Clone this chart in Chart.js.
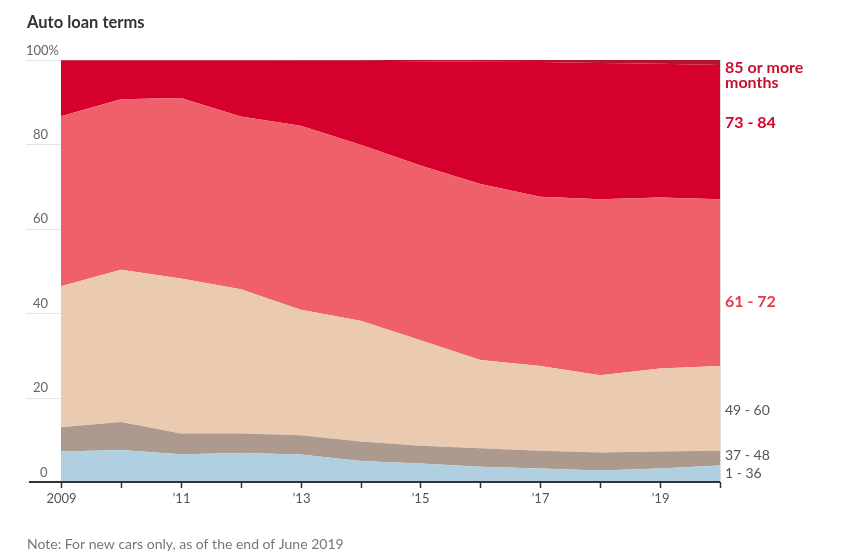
<!DOCTYPE html>
<html>
<head>
<meta charset="utf-8">
<script src="https://cdn.jsdelivr.net/npm/chart.js@4"></script>
<style>
  html, body { margin: 0; padding: 0; background: #fff; }
  #wrap { position: relative; width: 841px; height: 555px; }
</style>
</head>
<body>
<div id="wrap"><canvas id="loanChart" width="841" height="555"></canvas></div>
<script>
// Share of new-car auto loans by term (months), stacked to 100%
const years = ['2009', '2010', '2011', '2012', '2013', '2014', '2015', '2016', '2017', '2018', '2019', '2020'];
const tickLabels = ['2009', '', '\u201911', '', '\u201913', '', '\u201915', '', '\u201917', '', '\u201919', ''];
const yTicks = [0, 20, 40, 60, 80, 100];

const term1to36 = [7.2, 7.6, 6.6, 6.9, 6.5, 5.0, 4.4, 3.6, 3.2, 2.7, 3.2, 3.9];
const term37to48 = [5.8, 6.6, 4.9, 4.6, 4.6, 4.6, 4.2, 4.4, 4.2, 4.3, 4.0, 3.5];
const term49to60 = [33.4, 36.1, 36.7, 34.2, 29.7, 28.6, 25.0, 20.9, 20.1, 18.3, 19.7, 20.1];
const term61to72 = [40.3, 40.4, 42.8, 40.9, 43.6, 41.7, 41.4, 41.7, 40.1, 41.7, 40.5, 39.5];
const term85plus = [0.1, 0.1, 0.1, 0.1, 0.2, 0.2, 0.3, 0.4, 0.5, 0.7, 0.9, 1.2];
const term73to84 = years.map((y, i) =>
    +(100 - term1to36[i] - term37to48[i] - term49to60[i] - term61to72[i] - term85plus[i]).toFixed(1));

const FONT = 'Lato, "Noto Sans", sans-serif';

function area(label, data, color, fill) {
    return {
        label: label,
        data: data,
        backgroundColor: color,
        borderWidth: 0,
        pointRadius: 0,
        tension: 0,
        fill: fill
    };
}

// grid, axis, ticks and labels drawn by hand to match the newspaper style
const decorations = {
    id: 'decorations',
    beforeDatasetsDraw(chart) {
        const ctx = chart.ctx;
        const y = chart.scales.y;
        const area = chart.chartArea;
        ctx.save();
        ctx.strokeStyle = '#e4e4e4';
        ctx.lineWidth = 1;
        yTicks.forEach(v => {
            const py = Math.round(y.getPixelForValue(v)) + 0.5;
            ctx.beginPath();
            ctx.moveTo(26, py);
            ctx.lineTo(area.right, py);
            ctx.stroke();
        });
        ctx.restore();
    },
    afterDatasetsDraw(chart) {
        const ctx = chart.ctx;
        const x = chart.scales.x;
        const y = chart.scales.y;
        const area = chart.chartArea;
        ctx.save();

        // right frame line
        ctx.strokeStyle = '#dddddd';
        ctx.lineWidth = 1;
        ctx.beginPath();
        ctx.moveTo(area.right + 0.5, area.top);
        ctx.lineTo(area.right + 0.5, area.bottom);
        ctx.stroke();

        // y labels sit above their grid lines
        ctx.fillStyle = '#666';
        ctx.font = '13px ' + FONT;
        ctx.textAlign = 'left';
        ctx.textBaseline = 'bottom';
        yTicks.forEach(v => {
            const py = y.getPixelForValue(v);
            const txt = v === 100 ? '100%' : String(v);
            const px = v === 100 ? 26 : (v === 0 ? 40 : 33);
            ctx.fillText(txt, px, py - 3);
        });

        // x axis
        const base = y.getPixelForValue(0);
        ctx.strokeStyle = '#333';
        ctx.lineWidth = 2;
        ctx.beginPath();
        ctx.moveTo(29, base);
        ctx.lineTo(area.right, base);
        ctx.stroke();
        ctx.lineWidth = 1.5;
        ctx.textAlign = 'center';
        ctx.textBaseline = 'top';
        ctx.fillStyle = '#555';
        years.forEach((yr, i) => {
            const px = Math.round(x.getPixelForValue(i)) + 0.5;
            ctx.beginPath();
            ctx.moveTo(px, base);
            ctx.lineTo(px, base + 6);
            ctx.stroke();
            if (tickLabels[i]) ctx.fillText(tickLabels[i], px, base + 10);
        });

        // series labels on the right
        ctx.textAlign = 'left';
        ctx.textBaseline = 'middle';
        const lx = area.right + 5;
        ctx.font = 'bold 16px ' + FONT;
        ctx.fillStyle = '#c8102e';
        ctx.fillText('85 or more', lx, 68);
        ctx.fillText('months', lx, 83);
        ctx.fillStyle = '#d5002b';
        ctx.fillText('73 - 84', lx, 123);
        ctx.fillStyle = '#e8394b';
        ctx.fillText('61 - 72', lx, 302);
        ctx.font = '14px ' + FONT;
        ctx.fillStyle = '#555';
        ctx.fillText('49 - 60', lx, 410);
        ctx.fillText('37 - 48', lx, 455);
        ctx.fillText('1 - 36', lx, 473);

        // title and note
        ctx.textBaseline = 'alphabetic';
        ctx.font = 'bold 16.5px ' + FONT;
        ctx.fillStyle = '#333';
        ctx.fillText('Auto loan terms', 27, 28);
        ctx.font = '14px ' + FONT;
        ctx.fillStyle = '#777';
        ctx.fillText('Note: For new cars only, as of the end of June 2019', 27, 549);
        ctx.restore();
    }
};

new Chart(document.getElementById('loanChart'), {
    type: 'line',
    data: {
        labels: years,
        datasets: [
            area('1 - 36', term1to36, '#b0d0e2', 'origin'),
            area('37 - 48', term37to48, '#ab9a8d', '-1'),
            area('49 - 60', term49to60, '#eacbb2', '-1'),
            area('61 - 72', term61to72, '#f0606b', '-1'),
            area('73 - 84', term73to84, '#d5002b', '-1'),
            area('85 or more months', term85plus, '#b5142f', '-1')
        ]
    },
    options: {
        responsive: false,
        animation: false,
        layout: { padding: { left: 61, right: 121, top: 60, bottom: 73 } },
        plugins: {
            legend: { display: false },
            tooltip: { enabled: false }
        },
        scales: {
            x: { display: false, offset: false },
            y: { display: false, stacked: true, min: 0, max: 100 }
        }
    },
    plugins: [decorations]
});
</script>
</body>
</html>
